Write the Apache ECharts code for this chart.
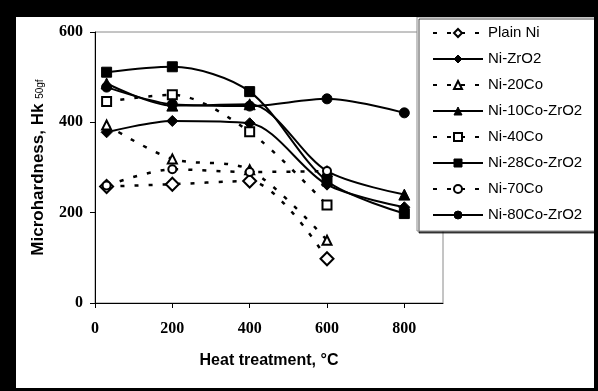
<!DOCTYPE html>
<html>
<head>
<meta charset="utf-8">
<script src="https://cdn.jsdelivr.net/npm/echarts@6/dist/echarts.min.js"></script>
<style>
html,body{margin:0;padding:0;background:#fff;}
#frame{position:absolute;left:0;top:0;width:598px;height:391px;background:#000;}
#chart{position:absolute;left:16px;top:17px;width:578px;height:371px;background:#fff;}
</style>
</head>
<body>
<div id="frame"></div>
<div id="chart"></div>
<script>
const temps = [30, 200, 400, 600, 800];
const xTicks = [0, 200, 400, 600, 800];
const yTicks = [0, 200, 400, 600];
const plainNi     = [258, 263, 270, 98];
const niZrO2      = [378, 403, 398, 262, 212];
const ni20Co      = [394, 319, 295, 139];
const ni10CoZrO2  = [486, 437, 440, 292, 240];
const ni40Co      = [446, 461, 379, 217];
const ni28CoZrO2  = [511, 523, 468, 270, 198];
const ni70Co      = [260, 296, 290, 292];
const ni80CoZrO2  = [478, 440, 436, 452, 421];

const pairs = v => v.map((y, i) => [temps[i], y]);

const dashed = { color: '#000', width: 2.5, type: [4, 10] };
const solid = { color: '#000', width: 2, type: 'solid' };

function mk(name, vals, symbol, size, dash) {
  return {
    name: name,
    type: 'line',
    data: pairs(vals),
    smooth: 0.3,
    symbol: symbol,
    symbolSize: size,
    showAllSymbol: true,
    lineStyle: dash ? dashed : solid,
    itemStyle: { color: '#000', borderColor: '#000', borderWidth: 1 },
    emphasis: { disabled: true },
    animation: false
  };
}

const chart = echarts.init(document.getElementById('chart'), null, { renderer: 'canvas' });
chart.setOption({
  animation: false,
  grid: {
    left: 79, top: 15, right: 151, bottom: 85,
    show: true, borderColor: '#8a8a8a', borderWidth: 1, backgroundColor: 'transparent'
  },
  legend: {
    orient: 'vertical',
    left: 401, top: 0,
    padding: [8, 13, 8, 15],
    itemWidth: 50, itemHeight: 10, itemGap: 10,
    backgroundColor: '#fff',
    borderColor: '#8a8a8a', borderWidth: 1,
    shadowColor: 'rgba(0,0,0,0.7)', shadowOffsetX: 2, shadowOffsetY: 2, shadowBlur: 0,
    textStyle: { fontFamily: 'Liberation Sans', fontSize: 15, color: '#000', lineHeight: 16, padding: [0, 0, 0, 0] },
    itemStyle: { borderWidth: 1 },
    selectedMode: false
  },
  xAxis: {
    type: 'value', min: 0, max: 900, interval: 200,
    name: 'Heat treatment, °C', nameLocation: 'middle', nameGap: 50,
    nameTextStyle: { fontFamily: 'Liberation Sans', fontWeight: 'bold', fontSize: 16, color: '#000' },
    axisLine: { show: true, onZero: false, lineStyle: { color: '#000', width: 1 } },
    axisTick: { show: true, length: 5, inside: false, customValues: xTicks, lineStyle: { color: '#000' } },
    axisLabel: { customValues: xTicks, margin: 18, fontFamily: 'Liberation Serif', fontWeight: 'bold', fontSize: 16, color: '#000' },
    splitLine: { show: false }
  },
  yAxis: {
    type: 'value', min: 0, max: 600, interval: 200,
    name: '{a|Microhardness, Hk }{b|50gf}', nameLocation: 'middle', nameGap: 48,
    nameTextStyle: {
      rich: {
        a: { fontFamily: 'Liberation Sans', fontWeight: 'bold', fontSize: 17, color: '#000' },
        b: { fontFamily: 'Liberation Sans', fontSize: 10, color: '#000', padding: [4, 0, 0, 0] }
      }
    },
    axisLine: { show: true, lineStyle: { color: '#000', width: 1 } },
    axisTick: { show: true, length: 5, inside: false, customValues: yTicks, lineStyle: { color: '#000' } },
    axisLabel: { customValues: yTicks, margin: 12, fontFamily: 'Liberation Serif', fontWeight: 'bold', fontSize: 16, color: '#000' },
    splitLine: { show: false }
  },
  series: [
    mk('Plain Ni', plainNi, 'emptyDiamond', 13, true),
    mk('Ni-ZrO2', niZrO2, 'diamond', 11, false),
    mk('Ni-20Co', ni20Co, 'emptyTriangle', 9, true),
    mk('Ni-10Co-ZrO2', ni10CoZrO2, 'triangle', 11, false),
    mk('Ni-40Co', ni40Co, 'emptyRect', 9, true),
    mk('Ni-28Co-ZrO2', ni28CoZrO2, 'rect', 10, false),
    mk('Ni-70Co', ni70Co, 'emptyCircle', 8, true),
    mk('Ni-80Co-ZrO2', ni80CoZrO2, 'circle', 10, false)
  ]
});
</script>
</body>
</html>
